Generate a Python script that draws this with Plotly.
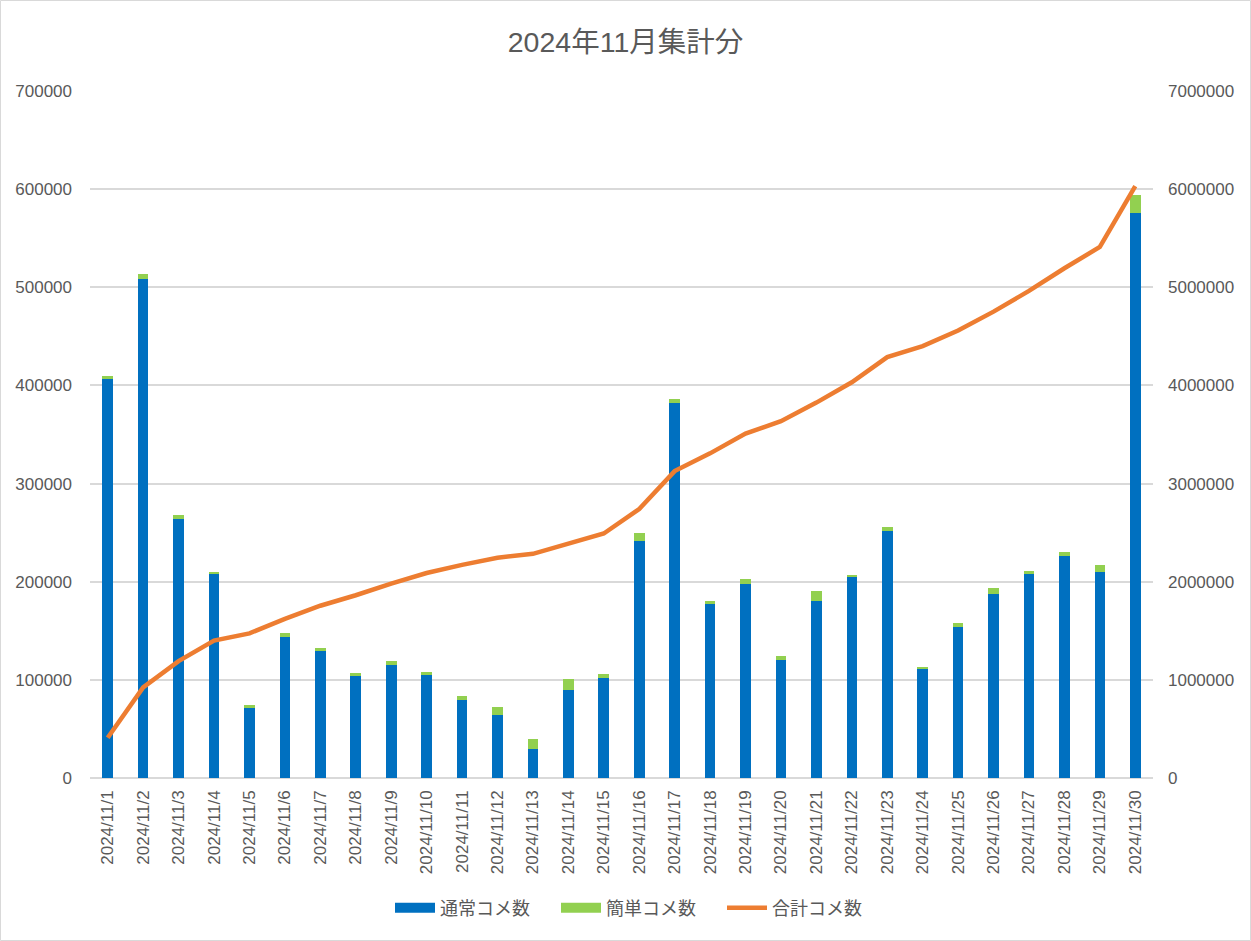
import plotly.graph_objects as go

dates = [f"2024/11/{d}" for d in range(1, 31)]

normal = [407000, 508500, 264000, 208000, 72300, 143700, 130400, 104000, 115100, 105000,
          79500, 64200, 29500, 89700, 102000, 241500, 382100, 178300, 197700, 120200,
          180400, 204800, 251700, 111100, 153900, 187500, 207900, 226200, 209900, 575700]
simple = [3000, 5000, 4000, 1000, 2000, 4000, 2000, 3000, 4000, 3000,
          4000, 8000, 10000, 11000, 4000, 8000, 4000, 2000, 5000, 4000,
          10000, 2000, 4000, 2000, 4000, 6000, 3000, 4000, 7000, 18000]
total_cum = [410000, 923000, 1191000, 1400000, 1474000, 1622000, 1755000, 1862000, 1981000, 2089000,
             2172000, 2245000, 2284000, 2385000, 2491000, 2741000, 3127000, 3308000, 3510000, 3635000,
             3825000, 4032000, 4288000, 4401000, 4559000, 4752000, 4963000, 5194000, 5411000, 6030000]

names = ["通常コメ数", "簡単コメ数", "合計コメ数"]
colors = ["#0070C0", "#92D050", "#ED7D31"]

font_family = "Liberation Sans, Arial, Noto Sans CJK JP"
gray = "#595959"

fig = go.Figure()
fig.add_trace(go.Bar(x=dates, y=normal, name=names[0], marker_color=colors[0],
                     marker_line_width=0, showlegend=False))
fig.add_trace(go.Bar(x=dates, y=simple, name=names[1], marker_color=colors[1],
                     marker_line_width=0, showlegend=False))
# legend-only entries drawn as wide swatches
for nm, col in zip(names[:2], colors[:2]):
    fig.add_trace(go.Scatter(x=[None], y=[None], name=nm, mode="lines",
                             line=dict(color=col, width=10)))
fig.add_trace(go.Scatter(x=dates, y=total_cum, name=names[2], mode="lines",
                         line=dict(color=colors[2], width=4.5), yaxis="y2"))

W, H = 1251, 941
ml, mr, mt, mb = 90, 98, 91, 163
pw, ph = W - ml - mr, H - mt - mb

fig.update_layout(
    width=W, height=H,
    margin=dict(l=ml, r=mr, t=mt, b=mb),
    paper_bgcolor="white", plot_bgcolor="white",
    barmode="stack", bargap=0.70,
    font=dict(family=font_family, color=gray, size=17),
    title=dict(text="2024年11月集計分", x=0.5, xanchor="center", y=1 - 42 / H, yanchor="middle",
               font=dict(size=28.5, color=gray, family=font_family)),
    xaxis=dict(type="category", tickangle=-90, showgrid=False, showline=False,
               ticks="", tickfont=dict(size=17, color=gray), ticklabelstandoff=8),
    yaxis=dict(range=[0, 700000], dtick=100000, tickformat="d", showgrid=True,
               gridcolor="#D9D9D9", gridwidth=1.5, zeroline=True, zerolinecolor="#D9D9D9",
               zerolinewidth=1.5, ticks="", tickfont=dict(size=17, color=gray), ticklabelstandoff=17),
    yaxis2=dict(range=[0, 7000000], dtick=1000000, tickformat="d", overlaying="y", side="right",
                showgrid=False, zeroline=False, ticks="", tickfont=dict(size=17, color=gray),
                ticklabelstandoff=14),
    legend=dict(orientation="h", x=(390 - ml) / pw, xanchor="left", y=(778 - 908) / ph,
                yanchor="middle", font=dict(size=18, color=gray, family="Noto Sans CJK JP"),
                traceorder="normal", itemwidth=40, entrywidth=111, entrywidthmode="pixels"),
    showlegend=True,
    shapes=[dict(type="rect", xref="paper", yref="paper",
                 x0=(0.5 - ml) / pw, x1=(W - 0.5 - ml) / pw,
                 y0=-(mb - 0.5) / ph, y1=1 + (mt - 0.5) / ph,
                 line=dict(color="#D9D9D9", width=1), fillcolor="rgba(0,0,0,0)", layer="below")],
)

fig.write_html("out.html")
